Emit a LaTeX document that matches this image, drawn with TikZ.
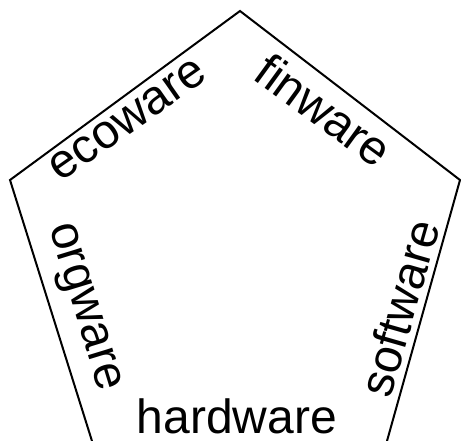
\documentclass[tikz,border=0pt]{standalone}
\usepackage{fontspec}
\setmainfont{Liberation Sans}
\usetikzlibrary{positioning}
\begin{document}
\begin{tikzpicture}[x=1pt,y=-1pt,line width=2pt,
  sidelabel/.style={font=\fontsize{48}{48}\selectfont,inner sep=0pt}]
  \useasboundingbox (0,0) rectangle (461,441);
  % the pentagon, its bottom side falls below the page
  \draw[line join=miter] (92,441) -- (10,180) -- (240,11) -- (460,180) -- (387,441);
  \node[sidelabel,rotate=35] (eco) at (128,120) {ecoware};
  \node[sidelabel,rotate=-36] (fin) at (324,110) {finware};
  \node[sidelabel,rotate=-73] (org) at (82,308) {orgware};
  \node[sidelabel,rotate=74] (soft) at (399,308) {software};
  \node[sidelabel,anchor=base] (hard) at (237,433) {hardware};
\end{tikzpicture}
\end{document}
